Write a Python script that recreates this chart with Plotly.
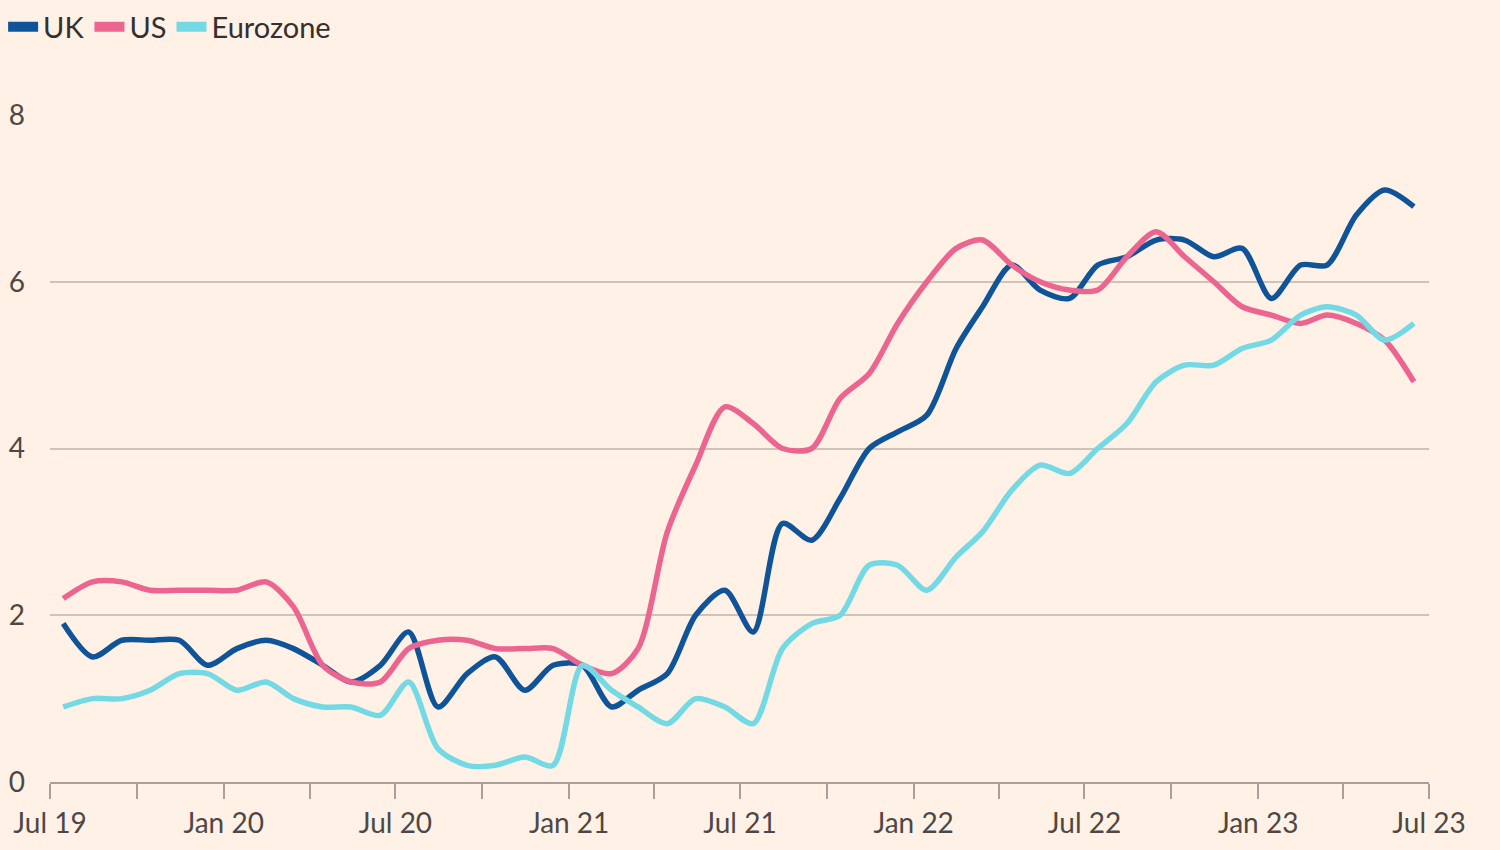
import pandas as pd
import plotly.graph_objects as go

# Monthly core inflation, % y/y, Jul 2019 - Jun 2023
months = pd.date_range("2019-07-01", periods=48, freq="MS") + pd.Timedelta(days=14)

uk = [1.9, 1.5, 1.7, 1.7, 1.7, 1.4,
      1.6, 1.7, 1.6, 1.4, 1.2, 1.4, 1.8, 0.9, 1.3, 1.5, 1.1, 1.4,
      1.4, 0.9, 1.1, 1.3, 2.0, 2.3, 1.8, 3.1, 2.9, 3.4, 4.0, 4.2,
      4.4, 5.2, 5.7, 6.2, 5.9, 5.8, 6.2, 6.3, 6.5, 6.5, 6.3, 6.4,
      5.8, 6.2, 6.2, 6.8, 7.1, 6.9]

us = [2.2, 2.4, 2.4, 2.3, 2.3, 2.3,
      2.3, 2.4, 2.1, 1.4, 1.2, 1.2, 1.6, 1.7, 1.7, 1.6, 1.6, 1.6,
      1.4, 1.3, 1.6, 3.0, 3.8, 4.5, 4.3, 4.0, 4.0, 4.6, 4.9, 5.5,
      6.0, 6.4, 6.5, 6.2, 6.0, 5.9, 5.9, 6.3, 6.6, 6.3, 6.0, 5.7,
      5.6, 5.5, 5.6, 5.5, 5.3, 4.8]

eurozone = [0.9, 1.0, 1.0, 1.1, 1.3, 1.3,
            1.1, 1.2, 1.0, 0.9, 0.9, 0.8, 1.2, 0.4, 0.2, 0.2, 0.3, 0.2,
            1.4, 1.1, 0.9, 0.7, 1.0, 0.9, 0.7, 1.6, 1.9, 2.0, 2.6, 2.6,
            2.3, 2.7, 3.0, 3.5, 3.8, 3.7, 4.0, 4.3, 4.8, 5.0, 5.0, 5.2,
            5.3, 5.6, 5.7, 5.6, 5.3, 5.5]

tick_dates = pd.date_range("2019-07-01", "2023-07-01", freq="QS-JAN")
tick_text = ["Jul 19", "", "Jan 20", "", "Jul 20", "", "Jan 21", "", "Jul 21", "",
             "Jan 22", "", "Jul 22", "", "Jan 23", "", "Jul 23"]
y_ticks = [0, 2, 4, 6, 8]

series = [("UK", uk, "#0F5499"), ("US", us, "#EC6590"), ("Eurozone", eurozone, "#72D9E5")]

fig = go.Figure()
for name, vals, col in series:
    fig.add_trace(go.Scatter(
        x=months, y=vals, name=name, mode="lines",
        line=dict(color=col, width=5.5, shape="spline", smoothing=0.8),
        showlegend=False,
    ))
for name, vals, col in series:
    fig.add_trace(go.Scatter(
        x=[None], y=[None], name=name, mode="lines",
        line=dict(color=col, width=10), showlegend=True,
    ))

fig.update_layout(
    width=1500, height=850,
    paper_bgcolor="#FFF1E5", plot_bgcolor="#FFF1E5",
    margin=dict(l=50, r=71, t=115, b=68, autoexpand=False),
    font=dict(family="Lato, 'Open Sans', sans-serif", color="#4d4845", size=28),
    legend=dict(orientation="h", x=-0.034, xanchor="left", y=1.132, yanchor="middle",
                font=dict(size=29, color="#33302e"), bgcolor="rgba(0,0,0,0)",
                itemwidth=30, tracegroupgap=0),
    showlegend=True,
)
fig.update_xaxes(
    range=["2019-07-01", "2023-07-01"],
    tickvals=tick_dates, ticktext=tick_text,
    showgrid=False, showline=True, linecolor="#a7a09a", linewidth=2,
    ticks="outside", ticklen=15, tickwidth=2, tickcolor="#a7a09a",
    tickfont=dict(size=28, color="#4d4845"), zeroline=False, automargin=False,
)
fig.update_yaxes(
    range=[0, 8], tickvals=y_ticks,
    showgrid=True, gridcolor="#cdc3b9", gridwidth=1.5,
    zeroline=False, showline=False, ticks="",
    tickfont=dict(size=28, color="#4d4845"), ticklabelstandoff=24, automargin=False,
)

fig.write_html(
    "out.html",
    config={"displayModeBar": False},
    post_script="document.body.style.margin='0';document.body.style.background='#FFF1E5';",
)
